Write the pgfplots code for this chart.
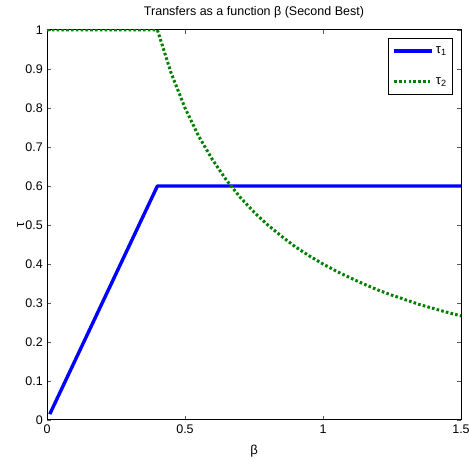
\documentclass[border=0pt]{standalone}
\usepackage{fontspec}
\setmainfont{Liberation Sans}
\usepackage{pgfplots}
\pgfplotsset{compat=1.18}
\definecolor{mblue}{RGB}{0,0,255}
\definecolor{mgreen}{RGB}{0,128,0}
\begin{document}
\fontsize{12pt}{14pt}\selectfont
\begin{tikzpicture}
\useasboundingbox (0,0) rectangle (469pt,460pt);
\begin{axis}[
    at={(47pt,40pt)}, anchor=south west,
    scale only axis, width=414pt, height=390pt,
    xmin=0, xmax=1.5, ymin=0, ymax=1,
    xtick={0,0.5,1,1.5}, ytick={0,0.1,...,1},
    xticklabels={0,0.5,1,1.5},
    yticklabels={0,0.1,0.2,0.3,0.4,0.5,0.6,0.7,0.8,0.9,1},
    tick align=inside, major tick length=4pt,
    tick style={gray!70!black, line width=0.7pt},
    axis line style={black, line width=1pt},
    ticklabel style={font=\fontsize{12.5pt}{14pt}\selectfont},
    xticklabel style={yshift=-1pt},
    title={Transfers as a function β (Second Best)},
    title style={at={(0.5,1)}, yshift=2pt, font=\fontsize{12.5pt}{14pt}\selectfont},
    xlabel={β}, ylabel={τ},
    xlabel style={yshift=-3pt, font=\fontsize{13pt}{14pt}\selectfont},
    ylabel style={yshift=-7pt, font=\fontsize{13pt}{14pt}\selectfont},
    legend style={at={(0.981,0.979)}, anchor=north east, draw=black, line width=1pt,
        font=\fontsize{13pt}{15pt}\selectfont, inner xsep=4pt, inner ysep=6pt, row sep=18pt,
        cells={anchor=west}},
    legend image code/.code={\draw[#1] (0pt,0pt) -- (38pt,0pt);},
]
\addplot[mblue, line width=3.4pt, line join=round] coordinates {
    (0.01,0.015) (0.4,0.6) (1.5,0.6)
};
\addlegendentry{τ\textsubscript{1}}
\addplot[mgreen, line width=3pt, dash pattern=on 2.6pt off 2.2pt] coordinates {
    (0,1) (0.4,1) (0.45,0.889) (0.5,0.8) (0.55,0.727) (0.6,0.667) (0.65,0.615)
    (0.7,0.571) (0.75,0.533) (0.8,0.5) (0.85,0.471) (0.9,0.444) (0.95,0.421)
    (1.0,0.4) (1.05,0.381) (1.1,0.364) (1.15,0.348) (1.2,0.333) (1.25,0.32)
    (1.3,0.308) (1.35,0.296) (1.4,0.286) (1.45,0.276) (1.5,0.267)
};
\addlegendentry{τ\textsubscript{2}}
\end{axis}
\end{tikzpicture}
\end{document}
